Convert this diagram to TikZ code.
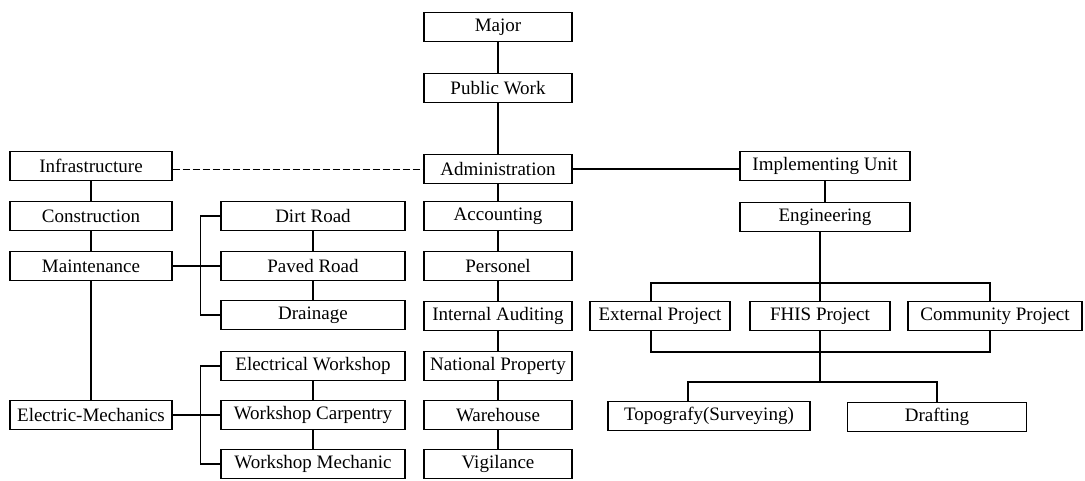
\documentclass[tikz,border=0pt]{standalone}
\usepackage{fontspec}
\setmainfont{Liberation Serif}
\usetikzlibrary{calc}
\begin{document}
\begin{tikzpicture}[x=1pt,y=-1pt,
  box/.style={draw, line width=1.4pt, minimum height=29pt, inner sep=0pt, font=\fontsize{19}{21}\selectfont},
  wa/.style={box, minimum width=162pt},
  wb/.style={box, minimum width=184pt},
  wc/.style={box, minimum width=148pt},
  wd/.style={box, minimum width=170pt},
  link/.style={line width=1.2pt},
  dashlink/.style={line width=0.9pt, dash pattern=on 7pt off 3pt}]
\useasboundingbox (0,0) rectangle (1085,480);
% centre column
\node[wc] (major) at (498,27) {Major};
\node[wc] (pub) at (498,88) {Public Work};
\node[wc] (admin) at (498,169) {Administration};
\node[wc] (acc) at (498,216) {Accounting};
\node[wc] (pers) at (498,266) {Personel};
\node[wc] (audit) at (498,316) {Internal Auditing};
\node[wc] (natp) at (498,366) {National Property};
\node[wc] (ware) at (498,415) {Warehouse};
\node[wc] (vig) at (498,464) {Vigilance};
% left column
\node[wa] (infra) at (91,166) {Infrastructure};
\node[wa] (cons) at (91,216) {Construction};
\node[wa] (maint) at (91,266) {Maintenance};
\node[wa] (em) at (91,415) {Electric-Mechanics};
% second column
\node[wb] (dirt) at (313,216) {Dirt Road};
\node[wb] (paved) at (313,266) {Paved Road};
\node[wb] (drain) at (313,315) {Drainage};
\node[wb] (ew) at (313,366) {Electrical Workshop};
\node[wb] (wcar) at (313,415) {Workshop Carpentry};
\node[wb] (wm) at (313,464) {Workshop Mechanic};
% right part
\node[wd] (impl) at (825,166) {Implementing Unit};
\node[wd] (eng) at (825,217) {Engineering};
\node[box, minimum width=140pt] (ext) at (660,316) {External Project};
\node[box, minimum width=140pt] (fhis) at (820,316) {FHIS Project};
\node[box, minimum width=174pt] (comm) at (995,316) {Community Project};
\node[box, minimum width=202pt] (topo) at (709,416) {Topografy(Surveying)};
\node[box, minimum width=179pt] (draft) at (937,417) {Drafting};
\coordinate (ya) at (0,283);
\coordinate (yb) at (0,352);
\coordinate (yc) at (0,382);
% centre links
\draw[link] (major) -- (pub);
\draw[link] (pub) -- (admin);
\draw[link] (admin) -- (acc);
\draw[link] (acc) -- (pers);
\draw[link] (pers) -- (audit);
\draw[link] (audit) -- (natp);
\draw[link] (natp) -- (ware);
\draw[link] (ware) -- (vig);
\draw[dashlink] (infra.east |- admin) -- (admin.west);
\draw[link] (admin.east) -- (impl.west |- admin);
% left links
\draw[link] (infra) -- (cons);
\draw[link] (cons) -- (maint);
\draw[link] (maint) -- (em);
\draw[link] (maint.east) -- (paved.west);
\draw[link] (dirt.west) -- ++(-20,0) |- (drain.west);
\draw[link] (dirt) -- (paved);
\draw[link] (paved) -- (drain);
\draw[link] (em.east) -- (wcar.west);
\draw[link] (ew.west) -- ++(-20,0) |- (wm.west);
\draw[link] (ew) -- (wcar);
\draw[link] (wcar) -- (wm);
% right links
\draw[link] (impl) -- (eng);
\draw[link] (fhis.north |- eng.south) -- (fhis.north);
\draw[link] ($(ext.north)+(-9,0)$) |- (fhis.north |- ya) -| ($(comm.north)+(-5,0)$);
\draw[link] ($(ext.south)+(-9,0)$) |- (fhis.south |- yb) -| ($(comm.south)+(-5,0)$);
\draw[link] (fhis.south) -- (fhis.south |- yc);
\draw[link] ($(topo.north)+(-21,0)$) |- (fhis.south |- yc) -| (draft.north);
\end{tikzpicture}
\end{document}
